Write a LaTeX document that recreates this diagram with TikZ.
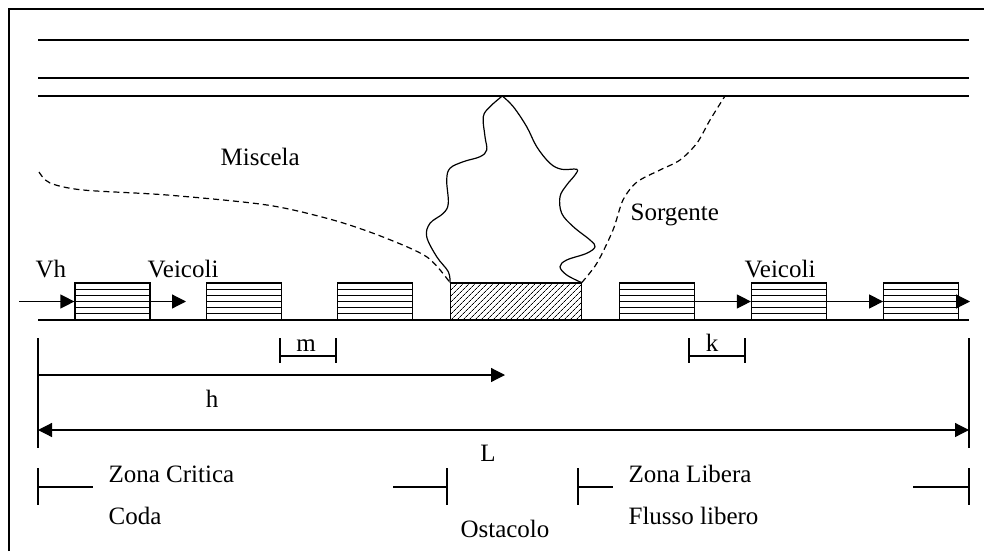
\documentclass[tikz,border=0pt]{standalone}
\usepackage{fontspec}
\setmainfont{Liberation Serif}
\usetikzlibrary{arrows.meta,
                calc,
                patterns.meta,
                positioning
            }

\tikzset{
  veicolo/.style={draw, minimum width=75pt, minimum height=37pt, inner sep=0pt,
    path picture={
      \foreach \i in {1,...,5}
        \draw ($(path picture bounding box.south west)!\i/6!(path picture bounding box.north west)$)
           -- ($(path picture bounding box.south east)!\i/6!(path picture bounding box.north east)$);
    }},
  ostacolo/.style={draw, minimum width=131pt, minimum height=37pt, inner sep=0pt,
    pattern={Lines[angle=45, distance=4pt, line width=0.7pt]}},
  freccia/.style={-{Triangle[length=14pt, width=14pt]}},
  fumo/.style={dash pattern=on 6pt off 4pt},
  etichetta/.style={inner sep=0pt, anchor=base west},
  quota/.style={inner sep=0pt, anchor=base},
}

\begin{document}
\begin{tikzpicture}[x=1pt, y=-1pt, line width=1.2pt, font=\fontsize{25pt}{29pt}\selectfont]
                \useasboundingbox (0,0) rectangle (984,551);
                % Cornice
                \draw[line width=2.8pt] (9,551) -- (9,9) -- (984,9);

                % Galleria
                \foreach \y in {40,78,96}
                    \draw (38,\y) -- (969,\y);

                % Strada
                \coordinate (s0) at (38,320);
                \coordinate (s1) at (969,320);
                \draw (s0) -- (s1);

                % Veicoli e ostacolo
                \node (v1) [veicolo] at (112.5,301.5) {};
                \node (v2) [veicolo, right=55pt of v1] {};
                \node (v3) [veicolo, right=55pt of v2] {};
                \node (ost) [ostacolo, right=37pt of v3] {};
                \node (v4) [veicolo, right=37pt of ost] {};
                \node (v5) [veicolo, right=56pt of v4] {};
                \node (v6) [veicolo, right=56pt of v5] {};

                % Frecce
                \coordinate (vh0) at (19,301.5);
                \coordinate (f1) at (186,301.5);
                \coordinate (f2) at (970,301.5);
                \draw[freccia] (vh0) -- (v1.west);
                \draw[freccia] (v1.east) -- (f1);
                \draw[freccia] (v4.east) -- (v5.west);
                \draw[freccia] (v5.east) -- (v6.west);
                \draw[freccia] (v6.east) -- (f2);

                % Etichette
                \node (vh) [etichetta] at (35,277) {Vh};
                \node (veic1) [etichetta] at (147,277) {Veicoli};
                \node (veic2) [etichetta] at (744,277) {Veicoli};
                \node (misc) [etichetta] at (220,165) {Miscela};
                \node (sorg) [etichetta] at (630,220) {Sorgente};

                % Fiamma
                \coordinate (cima) at (502.3,96);
                \draw plot[smooth, tension=0.6] coordinates {(ost.north west) (448.3,271.7) (436.7,256.7) (426.7,236.7) (430,223.3) (443.3,213.3) (448.3,203.3) (446.7,180) (450,168.3) (463.3,161.7) (480,156.7) (486.7,150) (485,136.7) (483.3,116.7) (490,106.7) (cima)};
                \draw plot[smooth, tension=0.6] coordinates {(cima) (513.3,106.7) (526.7,126.7) (536.7,146.7) (550,163.3) (561.7,169.3) (576.7,169.3) (575,175) (566.7,185) (560,196.7) (561.7,213.3) (573.3,226.7) (590,240) (595,246.7) (586.7,253.3) (566.7,260) (560,266.7) (566.7,275) (ost.north east)};

                % Fumo
                \draw[fumo] plot[smooth] coordinates {(39,172) (50,183) (83,190) (167,195) (267,205) (333,220) (383,237) (427,257) (ost.north west)};
                \draw[fumo] plot[smooth] coordinates {(ost.north east) (597,263) (613,230) (623,200) (637,182) (660,170) (680,160) (697,143) (710,120) (725,96)};

                % Quote
                \draw (38,338) -- (38,448);
                \draw (969,338) -- (969,448);
                \draw (280,338) -- (280,363) (336,338) -- (336,363) (280,356) -- (336,356);
                \node (m) [quota] at (306,351) {m};
                \draw (689,338) -- (689,363) (745,338) -- (745,363) (689,356) -- (745,356);
                \node (k) [quota] at (712,351) {k};
                \coordinate (h0) at (38,375);
                \coordinate (h1) at (505,375);
                \draw[freccia] (h0) -- (h1);
                \node (h) [quota] at (212,407) {h};
                \coordinate (l0) at (38,430);
                \coordinate (l1) at (969,430);
                \draw[{Triangle[length=14pt, width=14pt]}-{Triangle[length=14pt, width=14pt]}] (l0) -- (l1);
                \node (L) [quota] at (488,461) {L};

                % Zone
                \foreach \x in {38,447,578,969}
                    \draw (\x,468) -- (\x,505);
                \draw (38,487) -- (93,487) (393,487) -- (447,487);
                \draw (578,487) -- (613,487) (913,487) -- (969,487);
                \node (zc) [etichetta] at (108,482) {Zona Critica};
                \node (coda) [etichetta] at (108,524) {Coda};
                \node (osta) [quota] at (505,537) {Ostacolo};
                \node (zl) [etichetta] at (628,482) {Zona Libera};
                \node (fl) [etichetta] at (628,524) {Flusso libero};
            \end{tikzpicture}
\end{document}
